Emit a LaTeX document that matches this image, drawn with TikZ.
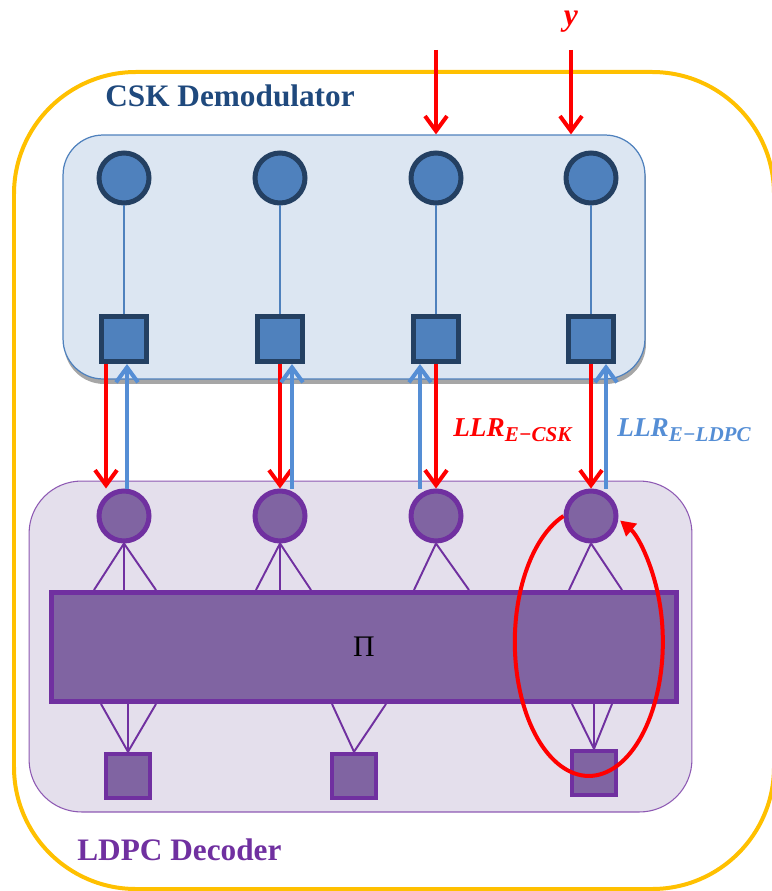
\documentclass[tikz,border=0pt]{standalone}
\usepackage{fontspec}
\setmainfont{Liberation Serif}
\usepackage{tikz}
\usetikzlibrary{arrows.meta,calc,positioning,shadows}
\definecolor{GoldLine}{RGB}{255,192,0}
\definecolor{CskFill}{RGB}{220,230,242}
\definecolor{CskLine}{RGB}{79,129,189}
\definecolor{CskDark}{RGB}{36,64,98}
\definecolor{CskTitle}{RGB}{31,73,125}
\definecolor{LdpcFill}{RGB}{228,223,236}
\definecolor{LdpcNode}{RGB}{128,100,162}
\definecolor{LdpcLine}{RGB}{112,48,160}
\definecolor{LlrBlue}{RGB}{85,142,213}
\definecolor{LlrRed}{RGB}{255,0,0}

\begin{document}
\begin{tikzpicture}[x=0.02cm,y=-0.02cm,
    cskpanel/.style={draw=CskLine,fill=CskFill,line width=0.7pt,rounded corners=0.8cm,
      minimum width=11.64cm,minimum height=4.88cm,
      drop shadow={shadow xshift=0.02cm,shadow yshift=-0.1cm,fill=black!35,opacity=1}},
    ldpcpanel/.style={draw=LdpcLine!80,fill=LdpcFill,line width=0.6pt,rounded corners=1.05cm,
      minimum width=13.26cm,minimum height=6.62cm},
    symnode/.style={circle,draw=CskDark,fill=CskLine,line width=0.1cm,minimum size=1cm,inner sep=0pt},
    demnode/.style={rectangle,draw=CskDark,fill=CskLine,line width=0.1cm,minimum size=0.9cm,inner sep=0pt},
    varnode/.style={circle,draw=LdpcLine,fill=LdpcNode,line width=0.1cm,minimum size=1cm,inner sep=0pt},
    chknode/.style={rectangle,draw=LdpcLine,fill=LdpcNode,line width=0.09cm,minimum size=0.88cm,inner sep=0pt},
    interleaver/.style={rectangle,draw=LdpcLine,fill=LdpcNode,line width=0.1cm,
      minimum width=12.5cm,minimum height=2.18cm,inner sep=0pt,font=\fontsize{17}{20}\selectfont},
    title/.style={anchor=base west,inner sep=0pt,font=\fontsize{17.8}{21}\selectfont\bfseries},
    llrlabel/.style={anchor=base west,inner sep=0pt,font=\fontsize{15.5}{18}\selectfont\bfseries\itshape},
    thinb/.style={draw=CskLine,line width=1.1pt},
    thinp/.style={draw=LdpcLine,line width=1.1pt},
    redarr/.style={draw=LlrRed,line width=0.08cm,-{Straight Barb[length=0.3cm,width=0.44cm]}},
    bluearr/.style={draw=LlrBlue,line width=0.08cm,-{Straight Barb[length=0.3cm,width=0.44cm]}},
    looparr/.style={draw=LlrRed,line width=0.08cm,-{Triangle[length=0.3cm,width=0.32cm]}}]
  \useasboundingbox (0,0) rectangle (771,891);
  % outer frame
  \draw[GoldLine,line width=0.08cm,rounded corners=2.44cm] (14,72) rectangle (774,889);
  % panels
  \node[cskpanel] (csk) at (354,257) {};
  \node[ldpcpanel] (ldpc) at (360.5,646.5) {};
  \node[title,text=CskTitle] (csktitle) at (105,107) {CSK Demodulator};
  \node[title,text=LdpcLine] (ldpctitle) at (77,860) {LDPC Decoder};
  % demodulator and variable nodes
  \foreach \i/\x in {1/124,2/280,3/436,4/591}{
    \node[symnode] (c\i) at (\x,178) {};
    \node[demnode] (s\i) at (\x,339) {};
    \node[varnode] (v\i) at (\x,516) {};
    \draw[thinb] (c\i) -- (s\i);
  }
  \node[interleaver] (pi) at (364,647) {Π};
  \node[chknode] (q1) at (128,776) {};
  \node[chknode] (q2) at (354,776) {};
  \node[chknode] (q3) at (594,773) {};
  % edges through the interleaver
  \foreach \i/\dx in {1/-30,1/0,1/32,2/-24,2/0,2/31,3/-22,3/33,4/-22,4/31}{
    \draw[thinp] (v\i.south) -- ($(v\i.south |- pi.north)+(\dx,0)$);
  }
  \foreach \i/\dx in {1/-27,1/0,1/28,2/-22,2/32,3/-22,3/0,3/18}{
    \draw[thinp] ($(q\i.north |- pi.south)+(\dx,0)$) -- (q\i.north);
  }
  % channel input
  \coordinate (in3) at (436,50);
  \coordinate (in4) at (571,50);
  \node[anchor=base,inner sep=0pt,text=LlrRed,font=\fontsize{18}{20}\selectfont\bfseries\itshape] (yin) at (571,26) {y};
  \draw[redarr] (in3) -- (in3 |- csk.north);
  \draw[redarr] (in4) -- (in4 |- csk.north);
  % extrinsic exchange
  \foreach \i/\dx in {1/-18,2/0,3/0,4/0}{
    \draw[redarr] ($(s\i.south)+(\dx,0)$) -- ($(v\i.north)+(\dx,0)$);
  }
  \foreach \i/\dx in {1/3,2/12,3/-16,4/15}{
    \draw[bluearr] ($(v\i.north)+(\dx,0)$) -- ($(s\i.south)+(\dx,0)$);
  }
  \node[llrlabel,text=LlrRed] (llrcsk) at (453,436) {LLR\textsubscript{\fontsize{12}{14}\selectfont E−CSK}};
  \node[llrlabel,text=LlrBlue] (llrldpc) at (617,436) {LLR\textsubscript{\fontsize{12}{14}\selectfont E−LDPC}};
  % inner decoding loop
  \draw[looparr] (v4.west) arc[start angle=-110,end angle=-425,x radius=74,y radius=134];
\end{tikzpicture}
\end{document}
